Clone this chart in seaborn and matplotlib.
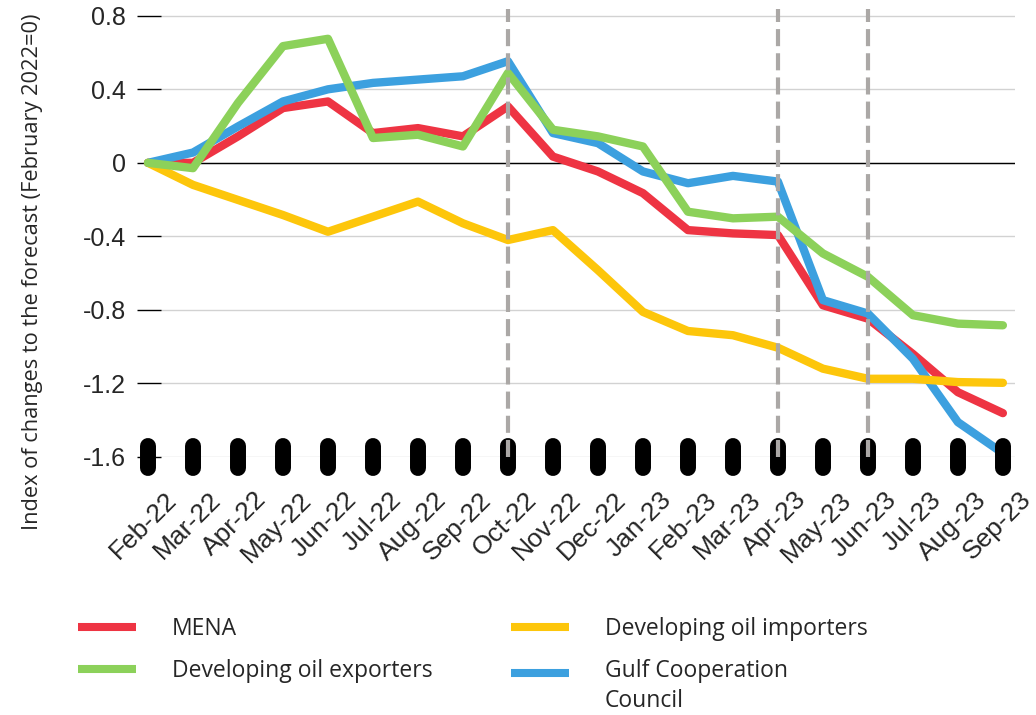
import numpy as np
import pandas as pd
import seaborn as sns
import matplotlib.pyplot as plt
import matplotlib.transforms as mtransforms
from matplotlib.lines import Line2D

# data
months = ['Feb-22', 'Mar-22', 'Apr-22', 'May-22', 'Jun-22', 'Jul-22', 'Aug-22', 'Sep-22',
          'Oct-22', 'Nov-22', 'Dec-22', 'Jan-23', 'Feb-23', 'Mar-23', 'Apr-23', 'May-23',
          'Jun-23', 'Jul-23', 'Aug-23', 'Sep-23']
mena = [0, 0.0, 0.144, 0.298, 0.334, 0.162, 0.189, 0.144, 0.307, 0.034, -0.047, -0.165,
        -0.366, -0.384, -0.393, -0.775, -0.848, -1.04, -1.248, -1.362]
oil_exporters = [0, -0.029, 0.326, 0.635, 0.675, 0.135, 0.153, 0.089, 0.489, 0.18, 0.144, 0.089,
                 -0.266, -0.302, -0.293, -0.493, -0.62, -0.829, -0.875, -0.884]
oil_importers = [0, -0.12, -0.202, -0.284, -0.375, -0.293, -0.211, -0.329, -0.42, -0.366, -0.584,
                 -0.811, -0.915, -0.938, -1.006, -1.12, -1.175, -1.175, -1.193, -1.197]
gcc = [0, 0.056, 0.198, 0.334, 0.40, 0.435, 0.453, 0.471, 0.553, 0.162, 0.107, -0.047,
       -0.111, -0.071, -0.102, -0.747, -0.82, -1.066, -1.411, -1.58]
event_months = ['Oct-22', 'Apr-23', 'Jun-23']
yticks = [0.8, 0.4, 0, -0.4, -0.8, -1.2, -1.6]
ytick_labels = ['0.8', '0.4', '0', '-0.4', '-0.8', '-1.2', '-1.6']

# drawing order (bottom to top)
series = {
    'MENA': (mena, '#EE3443'),
    'Gulf Cooperation\nCouncil': (gcc, '#3CA0DF'),
    'Developing oil importers': (oil_importers, '#FDC60B'),
    'Developing oil exporters': (oil_exporters, '#8CD15A'),
}
legend_order = ['MENA', 'Developing oil exporters', 'Developing oil importers',
                'Gulf Cooperation\nCouncil']

sns.set_style('white')
plt.rcParams['font.family'] = ['Liberation Sans', 'DejaVu Sans']
label_font = ['Open Sans', 'DejaVu Sans']

fig = plt.figure(figsize=(10.36, 7.15), dpi=100)
ax = fig.add_axes([0.14286, 0.361, 0.8369, 0.6264])
x_left, x_right = 0, 19.27
y_axis_at = 0.29  # the value axis sits a little right of the first month

x = np.arange(len(months))
df = pd.DataFrame({'x': x})
for name, (vals, col) in series.items():
    df[name] = vals
    sns.lineplot(data=df, x='x', y=name, ax=ax, color=col, linewidth=6, legend=False)
    line = ax.lines[-1]
    line.set_solid_capstyle('round')
    line.set_clip_on(False)

# grid and zero line, starting at the value axis
gstart = (y_axis_at - x_left) / (x_right - x_left)
for yv in yticks:
    ax.axhline(yv, xmin=gstart, color='#d2d2d2', linewidth=1, zorder=0)
ax.axhline(0, xmin=gstart, color='black', linewidth=1, zorder=1)

# dashed markers for forecast dates
for m in event_months:
    ax.axvline(months.index(m), color='#aba8a6', linewidth=3,
               linestyle=(0, (4.1, 1.7)), zorder=6, clip_on=False)

# chunky rounded x ticks
ticks = ax.vlines(x, -1.541, -1.661, color='black', linewidth=11.5, zorder=5, clip_on=False)
ticks.set_capstyle('round')

for s in ax.spines.values():
    s.set_visible(False)
ax.spines['left'].set_position(('data', y_axis_at))

ax.set_yticks(yticks)
ax.set_yticklabels(ytick_labels, fontsize=18)
ax.tick_params(axis='y', length=17, width=1, color='black', pad=8, left=True)
ax.set_xticks(x)
ax.set_xticklabels(months, fontsize=19, rotation=45, ha='right', rotation_mode='anchor')
ax.tick_params(axis='x', length=0, pad=22)
offset = mtransforms.ScaledTranslation(0.16, 0, fig.dpi_scale_trans)
for lab in ax.get_xticklabels():
    lab.set_transform(lab.get_transform() + offset)
ax.set_xlabel('')
ax.set_ylabel('')

ax.set_xlim(x_left, x_right)
ax.set_ylim(-1.6, 0.837)

fig.text(0.031, 0.62, 'Index of changes to the forecast (February 2022=0)', rotation=90,
         ha='center', va='center', fontsize=15.7, family=label_font)

handles = [Line2D([], [], color=series[n][1], linewidth=5.8, solid_capstyle='butt')
           for n in legend_order]
leg = fig.legend(handles, legend_order, loc='upper left',
                 bbox_to_anchor=(0.0755, 0.137), ncol=2, frameon=False, borderaxespad=0,
                 borderpad=0, handlelength=2.53, handletextpad=1.57, columnspacing=3.4,
                 labelspacing=0.8, prop={'family': label_font, 'size': 16.5})
for t in leg.get_texts():
    t.set_linespacing(1.3)
# keep the GCC swatch level with the first line of its label
gl = leg.legend_handles[3]
gl.set_ydata(np.asarray(gl.get_ydata()) + 10)

fig.savefig('out.png', dpi=100)
